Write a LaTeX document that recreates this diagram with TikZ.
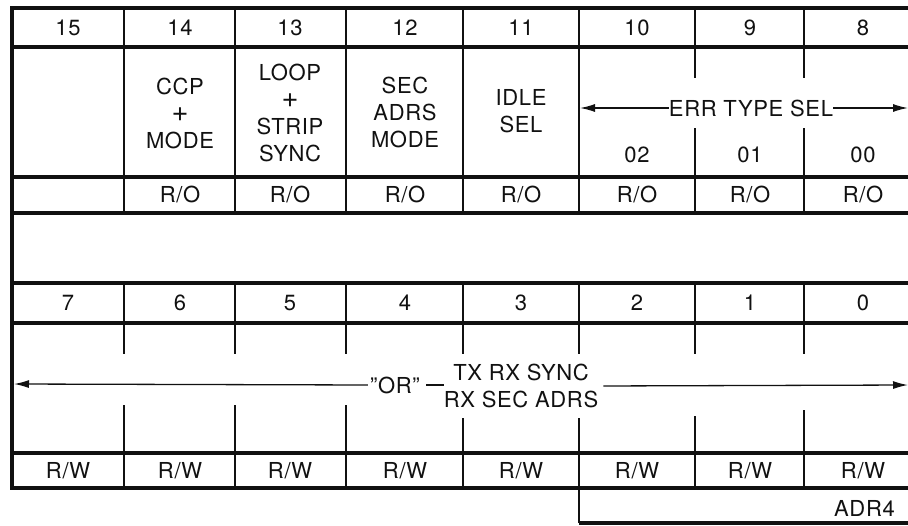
\documentclass[tikz,border=0pt]{standalone}
\usepackage{fontspec}
\setmainfont{TeX Gyre Heros}[LetterSpace=3]
\usepackage{tikz}
\usetikzlibrary{arrows.meta,positioning,calc}
\definecolor{rink}{HTML}{111111}
\newcommand{\bigplus}{{\fontsize{29}{27}\selectfont +}}

\begin{document}
\begin{tikzpicture}[x=1pt,y=-1pt,
  every node/.style={font=\fontsize{22}{27}\selectfont,text=rink,inner sep=0pt},
  rule/.style={line width=3.2pt,draw=rink},
  divider/.style={line width=1.7pt,draw=rink},
  flow/.style={line width=1.3pt,draw=rink,-{Latex[length=15pt,width=8pt]}}]
  \useasboundingbox (0,0) rectangle (908,525);
  % horizontal rules
  \foreach \y in {8,47,177,213,283,323,453,488}
    \draw[rule] (12,\y) -- (908,\y);
  \draw[rule] (579,523) -- (908,523);
  \draw[line width=4.4pt,draw=rink] (12,6.4) -- (12,489.6);
  % dividers, high byte
  \foreach \x in {124,235,346,463,579}
    \draw[divider] (\x,8) -- (\x,213);
  \foreach \x in {695,804}
    \draw[divider] (\x,8) -- (\x,78) (\x,128) -- (\x,213);
  % dividers, low byte
  \foreach \x/\s in {124/405,235/405,346/405,463/418,579/418,695/416,804/410}
    \draw[divider] (\x,283) -- (\x,354) (\x,\s) -- (\x,488);
  \draw[divider] (579,488) -- (579,523);

  % high byte
  \foreach \c/\b in {68/15,180/14,290/13,405/12,521/11,637/10,750/9,863/8}
    \node (b\b) at (\c,28) {\b};
  \foreach \c/\b in {180/14,290/13,405/12,521/11,637/10,750/9,863/8}
    \node (ro\b) at (\c,195) {R/O};
  \node[align=center] (f14) at (180,113) {CCP\\\bigplus\\MODE};
  \node[align=center] (f13) at (290,113) {LOOP\\\bigplus\\STRIP\\SYNC};
  \node[align=center] (f12) at (405,112) {SEC\\ADRS\\MODE};
  \node[align=center] (f11) at (521,111) {IDLE\\SEL};
  \node (f10) at (637,155) {02};
  \node (f9) at (750,155) {01};
  \node (f8) at (863,155) {00};
  \node (errsel) at (751,108) {ERR TYPE SEL};
  \coordinate (errL) at (580,108);
  \coordinate (errR) at (908,108);
  \draw[flow] (errsel.west) -- (errL);
  \draw[flow] (errsel.east) -- (errR);

  % low byte
  \foreach \c/\b in {68/7,180/6,290/5,405/4,521/3,637/2,750/1,863/0}
    \node (b\b) at (\c,303) {\b};
  \foreach \c/\b in {68/7,180/6,290/5,405/4,521/3,637/2,750/1,863/0}
    \node (rw\b) at (\c,471) {R/W};
  \node[align=center] (sync) at (521,386) {TX RX SYNC\\RX SEC ADRS};
  \node[anchor=east] (or) at (420,385) {''OR''};
  \coordinate (syncL) at (14,384);
  \coordinate (syncR) at (908,385);
  \draw[flow,shorten <=2pt] (or.west) -- (syncL);
  \draw[flow,shorten <=5pt] (sync.east) -- (syncR);
  \draw[line width=1.3pt,draw=rink,shorten <=6pt] (or.east) -- (sync.west |- or.east);
  \node[anchor=east] (adr) at (895,508) {ADR4};
\end{tikzpicture}
\end{document}
